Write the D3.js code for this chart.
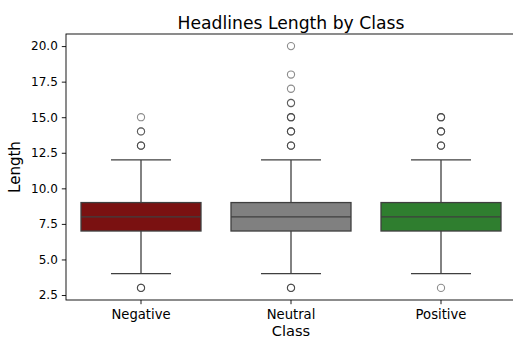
<!DOCTYPE html>
<html>
<head>
<meta charset="utf-8">
<script src="https://cdn.jsdelivr.net/npm/d3@7"></script>
<style>
  html, body { margin: 0; padding: 0; background: #fff; }
  svg { display: block; font-family: "DejaVu Sans", sans-serif; }
</style>
</head>
<body>
<svg id="chart" width="513" height="340"></svg>
<script>
// Headline length distribution per sentiment class (box summaries)
const categories = ["Negative", "Neutral", "Positive"];
const boxColors = ["#7a1111", "#808080", "#2f7e2f"];
const q1 = [7, 7, 7];
const median = [8, 8, 8];
const q3 = [9, 9, 9];
const whiskerLow = [4, 4, 4];
const whiskerHigh = [12, 12, 12];
// Outlying lengths; repeated values overlap and darken the marker
const outliersNegative = [15, 14, 14, 13, 13, 13, 3, 3, 3];
const outliersNeutral = [20, 18, 17, 16, 16, 15, 15, 15, 14, 14, 14, 13, 13, 13, 3, 3, 3];
const outliersPositive = [15, 15, 15, 14, 14, 14, 13, 13, 13, 3];
const yTicks = [2.5, 5.0, 7.5, 10.0, 12.5, 15.0, 17.5, 20.0];

const outliers = [outliersNegative, outliersNeutral, outliersPositive];
const rows = categories.map((c, i) => ({
  cat: c, color: boxColors[i], q1: q1[i], med: median[i], q3: q3[i],
  lo: whiskerLow[i], hi: whiskerHigh[i], out: outliers[i]
}));

const svg = d3.select("#chart");
const margin = { left: 66, top: 34, right: -3, bottom: 40 };
const W = 513, H = 340;
const plotL = margin.left, plotR = W - margin.right, plotT = margin.top, plotB = H - margin.bottom;

const x = d3.scaleBand().domain(categories).range([plotL, plotR]).paddingInner(0).paddingOuter(0);
const y = d3.scaleLinear().domain([2.15, 20.85]).range([plotB, plotT]);

const lineColor = "#3f3f3f";
const boxW = x.bandwidth() * 0.8;
const capW = boxW / 2;

const g = svg.append("g");

rows.forEach(d => {
  const cx = x(d.cat) + x.bandwidth() / 2;
  const grp = g.append("g");
  // whiskers
  grp.append("line").attr("x1", cx).attr("x2", cx).attr("y1", y(d.q3)).attr("y2", y(d.hi))
    .attr("stroke", lineColor).attr("stroke-width", 1.3);
  grp.append("line").attr("x1", cx).attr("x2", cx).attr("y1", y(d.q1)).attr("y2", y(d.lo))
    .attr("stroke", lineColor).attr("stroke-width", 1.3);
  // caps
  [d.hi, d.lo].forEach(v => {
    grp.append("line").attr("x1", cx - capW / 2).attr("x2", cx + capW / 2)
      .attr("y1", y(v)).attr("y2", y(v)).attr("stroke", lineColor).attr("stroke-width", 1.3);
  });
  // box
  grp.append("rect").attr("x", cx - boxW / 2).attr("width", boxW)
    .attr("y", y(d.q3)).attr("height", y(d.q1) - y(d.q3))
    .attr("fill", d.color).attr("stroke", lineColor).attr("stroke-width", 1.3);
  // median
  grp.append("line").attr("x1", cx - boxW / 2).attr("x2", cx + boxW / 2)
    .attr("y1", y(d.med)).attr("y2", y(d.med)).attr("stroke", lineColor).attr("stroke-width", 1.3);
  // fliers
  grp.selectAll("circle.flier").data(d.out).join("circle")
    .attr("class", "flier")
    .attr("cx", cx).attr("cy", v => y(v)).attr("r", 3.6)
    .attr("fill", "none").attr("stroke", lineColor).attr("stroke-opacity", 0.6).attr("stroke-width", 1.1);
});

// axes
const yAxis = d3.axisLeft(y).tickValues(yTicks).tickFormat(d3.format(".1f")).tickSize(4.2).tickPadding(4);
const xAxis = d3.axisBottom(x).tickSize(4.2).tickPadding(5);

const ya = svg.append("g").attr("transform", `translate(${plotL},0)`).call(yAxis);
const xa = svg.append("g").attr("transform", `translate(0,${plotB})`).call(xAxis);
[ya, xa].forEach(a => {
  a.select(".domain").remove();
  a.selectAll("line").attr("stroke", "#000").attr("stroke-width", 0.9);
  a.selectAll("text").attr("fill", "#000").style("font-family", "'DejaVu Sans', sans-serif");
});
ya.selectAll("text").style("font-size", "12px");
xa.selectAll("text").style("font-size", "13.2px");

// spines
svg.append("rect").attr("x", plotL).attr("y", plotT).attr("width", plotR - plotL).attr("height", plotB - plotT)
  .attr("fill", "none").attr("stroke", "#000").attr("stroke-width", 0.9);

// labels
svg.append("text").attr("x", (plotL + plotR) / 2).attr("y", 28.5).attr("text-anchor", "middle")
  .style("font-size", "17.2px").attr("fill", "#000").text("Headlines Length by Class");
svg.append("text").attr("x", (plotL + plotR) / 2).attr("y", 336.3).attr("text-anchor", "middle")
  .style("font-size", "14.6px").attr("fill", "#000").text("Class");
svg.append("text").attr("transform", `translate(20,${(plotT + plotB) / 2}) rotate(-90)`)
  .attr("text-anchor", "middle").style("font-size", "15px").attr("fill", "#000").text("Length");
</script>
</body>
</html>
